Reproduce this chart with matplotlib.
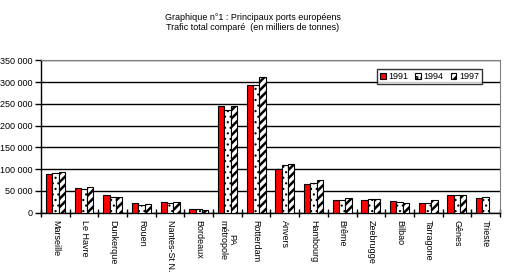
import numpy as np
import matplotlib.pyplot as plt
import matplotlib as mpl

ports = ['Marseille', 'Le Havre', 'Dunkerque', 'Rouen', 'Nantes-St N.', 'Bordeaux',
         'PA\nmétropole', 'Rotterdam', 'Anvers', 'Hambourg', 'Brême', 'Zeebrugge',
         'Bilbao', 'Tarragone', 'Gênes', 'Trieste']
t1991 = [88900, 56700, 40600, 22300, 24600, 8500, 245000, 293300, 99700, 65900,
         29200, 29200, 26900, 22300, 40600, 33800]
t1994 = [91200, 54400, 36000, 17700, 22300, 8500, 235900, 293000, 109500, 68200,
         29200, 31500, 24600, 22300, 40600, 36000]
t1997 = [93500, 59000, 36000, 20000, 24600, 6200, 245000, 311600, 111800, 75100,
         33800, 31500, 22300, 29200, 40600, 0]
yticks = [0, 50000, 100000, 150000, 200000, 250000, 300000, 350000]

plt.rcParams['font.family'] = ['Liberation Sans', 'DejaVu Sans']

fig = plt.figure(figsize=(5.05, 2.79), dpi=100)
ax = fig.add_axes([0.0812, 0.2376, 0.9088, 0.5463])

x = np.arange(len(ports))
w = 0.22
ax.bar(x - w, t1991, w, color='#ff0000', edgecolor='black', linewidth=0.8, label='1991', zorder=3)
mpl.rcParams['hatch.linewidth'] = 0.8
ax.bar(x, t1994, w, color='white', edgecolor='black', linewidth=0.8, hatch='...', label='1994', zorder=3)
mpl.rcParams['hatch.linewidth'] = 1.8
ax.bar(x + w, t1997, w, color='white', edgecolor='black', linewidth=0.8, hatch='////', label='1997', zorder=3)

ax.set_xlim(-0.5, len(ports) - 0.5)
ax.set_ylim(0, 350000)
ax.set_yticks(yticks)
ax.set_yticklabels([f'{v:,}'.replace(',', ' ') for v in yticks], fontsize=6.5)
ax.yaxis.grid(True, color='black', linewidth=1)
ax.set_axisbelow(True)

ax.set_xticks(np.arange(len(ports) + 1) - 0.5, minor=False)
ax.set_xticklabels([])
ax.tick_params(axis='x', which='major', direction='inout', length=6, width=1)
ax.set_xticks(x, minor=True)
ax.set_xticklabels(ports, minor=True, rotation=270, fontsize=6.5, va='top', ha='center', linespacing=1.0)
ax.tick_params(axis='x', which='minor', length=0, pad=5)
ax.tick_params(axis='y', length=4, width=1, pad=2)

for s in ['top', 'right']:
    ax.spines[s].set_color('#808080')
for s in ['left', 'bottom']:
    ax.spines[s].set_linewidth(1)

leg = ax.legend(loc='upper right', bbox_to_anchor=(0.97, 0.97), ncol=3, fontsize=6.5,
                frameon=True, fancybox=False, edgecolor='black', handlelength=0.6,
                handleheight=0.6, handletextpad=0.3, columnspacing=0.8, borderpad=0.3)
leg.get_frame().set_linewidth(1)

fig.text(0.5, 0.955, 'Graphique n°1 : Principaux ports européens\nTrafic total comparé  (en milliers de tonnes)',
         ha='center', va='top', fontsize=6.5, linespacing=1.2)

fig.savefig('out.png', dpi=100)
